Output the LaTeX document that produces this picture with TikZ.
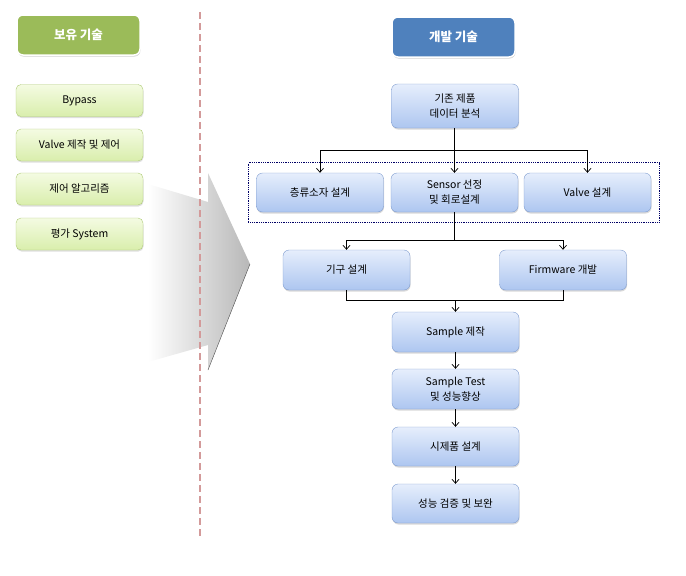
\documentclass[tikz,border=0pt]{standalone}
\usepackage{fontspec}
\setmainfont{Noto Sans CJK KR}
\usetikzlibrary{arrows.meta,shadows,fit}

\definecolor{headgreen}{HTML}{9BBB59}
\definecolor{headblue}{HTML}{4F81BD}
\definecolor{divider}{HTML}{D39A9A}
\definecolor{greentop}{HTML}{F4FBE2}
\definecolor{greenbot}{HTML}{D9EEAC}
\definecolor{greenline}{HTML}{AFCB78}
\definecolor{bluetop}{HTML}{E6EEFC}
\definecolor{bluebot}{HTML}{ADC6F0}
\definecolor{blueline}{HTML}{7F9CCF}

\tikzset{
  heading/.style={rectangle, rounded corners=6pt, minimum width=123pt, minimum height=40pt,
    draw=white, line width=1.5pt, text=white, font=\fontsize{12.5}{14}\selectfont\bfseries,
    drop shadow={opacity=0.35, shadow xshift=0.5pt, shadow yshift=-1.5pt}},
  skill/.style={rectangle, rounded corners=5pt, minimum width=127pt, minimum height=32pt,
    draw=greenline, top color=greentop, bottom color=greenbot,
    font=\fontsize{10.5}{13}\selectfont, align=center,
    drop shadow={opacity=0.25, shadow xshift=0.5pt, shadow yshift=-1.5pt}},
  task/.style={rectangle, rounded corners=6pt, minimum width=127pt, minimum height=40pt,
    draw=blueline, top color=bluetop, bottom color=bluebot,
    font=\fontsize{10.5}{15}\selectfont, align=center,
    drop shadow={opacity=0.3, shadow xshift=0.5pt, shadow yshift=-1.5pt}},
  flow/.style={-{Straight Barb[length=4pt,width=7pt]}, black, line width=0.7pt},
  group/.style={draw=blue!40!black, densely dotted, thick, inner xsep=8pt, inner ysep=10pt}
}

\begin{document}
\begin{tikzpicture}[x=1pt, y=-1pt]
  \useasboundingbox (0,0) rectangle (686,576);

  \shade[left color=white, right color=black!28] (148,184) -- (208,202) -- (208,173) -- (250,264)
    -- (208,370) -- (208,345) -- (148,362) -- cycle;
  \draw[black!70, thin] (250,264) -- (208,370);
  \draw[divider, line width=2pt, dash pattern=on 7pt off 4pt] (200,12) -- (200,536);

  \node[heading, fill=headgreen] (hold) at (78.5,35) {보유 기술};
  \node[skill] (bypass) at (79.5,100.5) {Bypass};
  \node[skill] (valvectl) at (79.5,145) {Valve 제작 및 제어};
  \node[skill] (algo) at (79.5,189) {제어 알고리즘};
  \node[skill] (eval) at (79.5,234) {평가 System};

  \node[heading, fill=headblue] (dev) at (453.5,37) {개발 기술};
  \node[task, minimum height=44pt] (data) at (455,106) {기존 제품\\데이터 분석};

  \node[task, minimum height=39pt] (lam) at (320,192.5) {층류소자 설계};
  \node[task, minimum height=39pt] (sensor) at (454.5,192.5) {Sensor 선정\\및 회로설계};
  \node[task, minimum height=39pt] (valve) at (587.5,192.5) {Valve 설계};
  \node[group, fit=(lam)(sensor)(valve)] (row) {};

  \node[task] (mech) at (346.5,270) {기구 설계};
  \node[task] (fw) at (563,270) {Firmware 개발};
  \node[task] (make) at (455.5,332) {Sample 제작};
  \node[task] (test) at (455.5,389) {Sample Test\\및 성능향상};
  \node[task, minimum height=39pt] (proto) at (455.5,446.5) {시제품 설계};
  \node[task, minimum height=39pt] (verify) at (455.5,503.5) {성능 검증 및 보완};

  \coordinate (split) at (454.5,150);
  \coordinate (branch) at (454.5,240);
  \coordinate (merge) at (455.5,300);

  \draw[line width=0.7pt] (data.south -| split) -- (split);
  \draw[flow] (split) -| (lam);
  \draw[flow] (split) -- (sensor);
  \draw[flow] (split) -| (valve);

  \draw[line width=0.7pt] (sensor) -- (branch);
  \draw[flow] (branch) -| (mech);
  \draw[flow] (branch) -| (fw);

  \draw[line width=0.7pt] (mech) |- (merge);
  \draw[line width=0.7pt] (fw) |- (merge);
  \draw[flow] (merge) -- (make);

  \path[flow] (make) edge (test)
    (test) edge (proto)
    (proto) edge (verify);
\end{tikzpicture}
\end{document}
